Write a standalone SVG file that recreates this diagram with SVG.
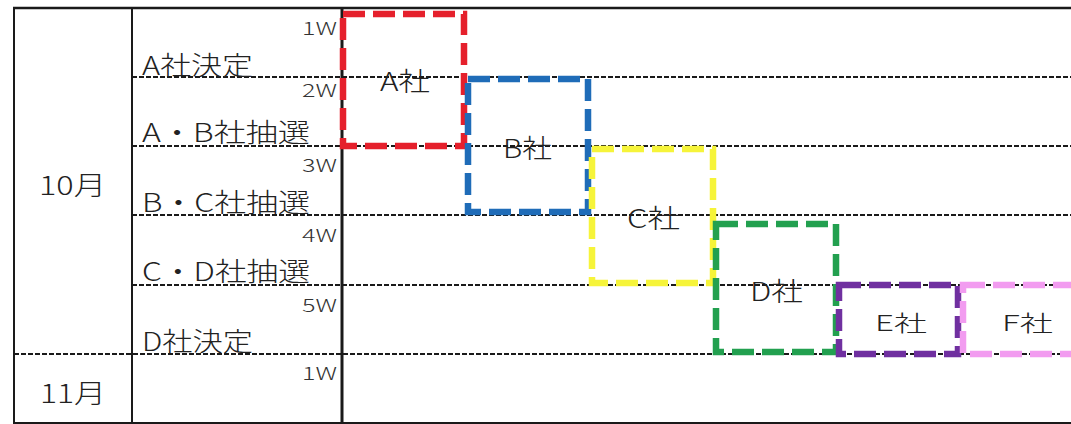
<svg xmlns="http://www.w3.org/2000/svg" width="1071" height="424" viewBox="0 0 1071 424">
<style>
.solid{stroke:#1a1a1a;fill:none}
.dash{stroke:#1a1a1a;stroke-width:2.2;stroke-dasharray:5 2;fill:none}
.box{fill:none;stroke-width:6.5;stroke-dasharray:22 8}
.lbl{font-family:"Noto Sans CJK JP","Noto Sans",sans-serif;font-size:26px;font-weight:300;fill:#222}
.wk{font-family:"Noto Sans CJK JP","Noto Sans",sans-serif;font-size:18px;font-weight:300;fill:#333}
.co{font-family:"Noto Sans CJK JP","Noto Sans",sans-serif;font-size:26px;font-weight:300;fill:#222}
.co2{font-family:"Noto Sans CJK JP","Noto Sans",sans-serif;font-size:22px;font-weight:300;fill:#222}
</style>
<rect width="1071" height="424" fill="#ffffff"/>
<g id="grid">
<line class="solid" x1="13" y1="8" x2="1071" y2="8" stroke-width="2.5"/>
<line class="solid" x1="13" y1="423" x2="1071" y2="423" stroke-width="2"/>
<line class="solid" x1="14" y1="8" x2="14" y2="424" stroke-width="2"/>
<line class="solid" x1="132" y1="8" x2="132" y2="424" stroke-width="2"/>
<line class="solid" x1="342" y1="8" x2="342" y2="424" stroke-width="3"/>
<line class="dash" x1="132" y1="77" x2="1071" y2="77"/>
<line class="dash" x1="132" y1="146" x2="1071" y2="146"/>
<line class="dash" x1="132" y1="215" x2="1071" y2="215"/>
<line class="dash" x1="132" y1="285" x2="1071" y2="285"/>
<line class="dash" x1="14" y1="354" x2="1071" y2="354"/>
</g>
<g id="months">
<text class="lbl" x="39" y="195" font-size="24" textLength="67" lengthAdjust="spacingAndGlyphs">10月</text>
<text class="lbl" x="40" y="403" font-size="24" textLength="66" lengthAdjust="spacingAndGlyphs">11月</text>
</g>
<g id="row-labels">
<text class="lbl" x="142" y="75" textLength="111" lengthAdjust="spacingAndGlyphs">A社決定</text>
<text class="lbl" x="142" y="142" textLength="168" lengthAdjust="spacingAndGlyphs">A・B社抽選</text>
<text class="lbl" x="142" y="212" textLength="168" lengthAdjust="spacingAndGlyphs">B・C社抽選</text>
<text class="lbl" x="142" y="281" textLength="168" lengthAdjust="spacingAndGlyphs">C・D社抽選</text>
<text class="lbl" x="142" y="351" textLength="111" lengthAdjust="spacingAndGlyphs">D社決定</text>
</g>
<g id="weeks">
<text class="wk" x="302" y="35" textLength="35" lengthAdjust="spacingAndGlyphs">1W</text>
<text class="wk" x="302" y="97" textLength="35" lengthAdjust="spacingAndGlyphs">2W</text>
<text class="wk" x="302" y="172" textLength="35" lengthAdjust="spacingAndGlyphs">3W</text>
<text class="wk" x="302" y="242" textLength="35" lengthAdjust="spacingAndGlyphs">4W</text>
<text class="wk" x="302" y="312" textLength="35" lengthAdjust="spacingAndGlyphs">5W</text>
<text class="wk" x="302" y="380" textLength="35" lengthAdjust="spacingAndGlyphs">1W</text>
</g>
<g id="company-A">
<rect class="box" x="343" y="14" width="121" height="132" stroke="#e5202c"/>
<text class="co" x="380" y="91" textLength="50" lengthAdjust="spacingAndGlyphs">A社</text>
</g>
<g id="company-B">
<rect class="box" x="468" y="79" width="120" height="133" stroke="#1f6cb8"/>
<text class="co" x="503" y="158" textLength="49" lengthAdjust="spacingAndGlyphs">B社</text>
</g>
<g id="company-C">
<rect class="box" x="592" y="149" width="121" height="134" stroke="#f6f43a"/>
<text class="co" x="627" y="228" textLength="53" lengthAdjust="spacingAndGlyphs">C社</text>
</g>
<g id="company-D">
<rect class="box" x="716" y="224" width="120" height="128" stroke="#22a04f"/>
<text class="co" x="750" y="301" textLength="53" lengthAdjust="spacingAndGlyphs">D社</text>
</g>
<g id="company-E">
<rect class="box" x="839" y="285" width="119" height="69" stroke="#7030a0"/>
<text class="co2" x="875" y="331" textLength="52" lengthAdjust="spacingAndGlyphs">E社</text>
</g>
<g id="company-F">
<rect class="box" x="963" y="285" width="130" height="69" stroke="#f29cf0"/>
<text class="co2" x="1002" y="331" textLength="51" lengthAdjust="spacingAndGlyphs">F社</text>
</g>
</svg>
